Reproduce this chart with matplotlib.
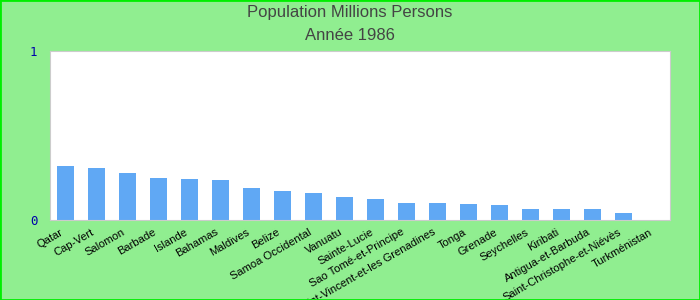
import matplotlib.pyplot as plt
import matplotlib.transforms as mtransforms
import numpy as np

plt.rc('font', family=['Liberation Sans', 'DejaVu Sans'])

countries = ['Qatar', 'Cap-Vert', 'Salomon', 'Barbade', 'Islande', 'Bahamas',
             'Maldives', 'Belize', 'Samoa Occidental', 'Vanuatu', 'Sainte-Lucie',
             'Sao Tomé-et-Principe', 'Saint-Vincent-et-les Grenadines', 'Tonga',
             'Grenade', 'Seychelles', 'Kiribati', 'Antigua-et-Barbuda',
             'Saint-Christophe-et-Niévès', 'Turkménistan']
population = [0.320, 0.308, 0.278, 0.249, 0.243, 0.237, 0.189, 0.172, 0.160,
              0.136, 0.124, 0.101, 0.101, 0.095, 0.089, 0.065, 0.065, 0.065,
              0.041, 0.0]

fig = plt.figure(figsize=(7, 3), dpi=100, facecolor='#90EE90')
fig.patches.append(plt.Rectangle((0, 0), 1, 1, transform=fig.transFigure,
                                 fill=False, edgecolor='#00EE00', linewidth=2))
ax = fig.add_axes([50/700, 80/300, 620/700, 169/300])

x = np.arange(len(countries))
ax.bar(x, population, width=0.55, color='#60A8F4')
ax.set_xlim(-0.5, len(countries) - 0.5)
ax.set_ylim(0, 1)
ax.set_yticks([0, 1])
ax.set_yticklabels(['0', '1'], color='#0000AA', family='DejaVu Sans Mono', fontsize=9)
ax.set_xticks(x)
ax.set_xticklabels(countries, rotation=30, ha='right', rotation_mode='anchor', fontsize=8)
ax.tick_params(length=0, pad=5)
ax.tick_params(axis='y', pad=9)
shift = mtransforms.ScaledTranslation(-4/72, 0, fig.dpi_scale_trans)
for lab in ax.get_xticklabels():
    lab.set_transform(lab.get_transform() + shift)
for s in ax.spines.values():
    s.set_color('#CCCCCC')

fig.text(0.5, 1 - 12/300, 'Population Millions Persons', ha='center', va='center',
         fontsize=12, color='#444444')
fig.text(0.5, 1 - 35/300, 'Année 1986', ha='center', va='center',
         fontsize=12, color='#444444')

plt.savefig('out.png', dpi=100, facecolor=fig.get_facecolor())
